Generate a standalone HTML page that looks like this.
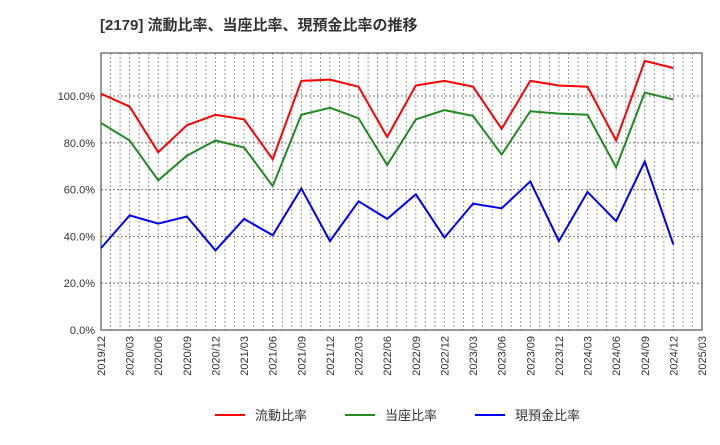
<!DOCTYPE html>
<html><head><meta charset="utf-8"><style>
body{margin:0;background:#fff;font-family:"Liberation Sans","Noto Sans CJK JP",sans-serif}
svg text{font-family:"Liberation Sans","Noto Sans CJK JP",sans-serif}
</style></head><body>
<svg id="c" width="720" height="440">
<text x="100" y="30" font-size="15" font-weight="bold" fill="#333">[2179]  流動比率、当座比率、現預金比率の推移</text>
</svg>
<script>
const categories=["2019/12","2020/03","2020/06","2020/09","2020/12","2021/03","2021/06","2021/09","2021/12","2022/03","2022/06","2022/09","2022/12","2023/03","2023/06","2023/09","2023/12","2024/03","2024/06","2024/09","2024/12","2025/03"];
const currentRatio=[101,95.5,76,87.5,92,90,73,106.5,107,104,82.5,104.5,106.5,104,86,106.5,104.5,104,81,115,112];
const quickRatio=[88.5,81,64,74.5,81,78,61.5,92,95,90.5,70.5,90,94,91.5,75,93.5,92.5,92,69.5,101.5,98.5];
const cashRatio=[35,49,45.5,48.5,34,47.5,40.5,60.5,38,55,47.5,58,39.5,54,52,63.5,38,59,46.5,72,36.5];
const yTicks=[0,20,40,60,80,100];
const NS="http://www.w3.org/2000/svg",svg=document.getElementById("c");
const L=101,R=702,T=53,B=330,yMax=118.4;
const xs=i=>L+(R-L)*i/(categories.length-1);
const ys=v=>B-(B-T)*v/yMax;
function mk(t,a){const e=document.createElementNS(NS,t);for(const k in a)e.setAttribute(k,a[k]);svg.appendChild(e);return e;}
// monthly vertical grid
for(let m=0;m<=(categories.length-1)*3;m++){const x=L+(R-L)*m/((categories.length-1)*3);
const g=mk("line",{x1:x,x2:x,y1:T,y2:B,stroke:"#999","stroke-dasharray":"2,2","stroke-width":1});

}
yTicks.forEach(v=>{const y=ys(v);
const g=mk("line",{x1:L,x2:R,y1:y,y2:y,stroke:"#777","stroke-dasharray":"2,2","stroke-width":1});


const t=mk("text",{x:L-6,y:y+4,"text-anchor":"end","font-size":11,fill:"#333"});t.textContent=v.toFixed(1)+"%";

});
categories.forEach((c,i)=>{const x=xs(i);
const t=mk("text",{x:x+4,y:B+6,"text-anchor":"end","font-size":11,fill:"#333",transform:`rotate(-90 ${x+4} ${B+6})`});t.textContent=c;

});
const f=mk("rect",{x:L,y:T,width:R-L,height:B-T,fill:"none",stroke:"#333","stroke-width":1});


[[currentRatio,"#f00","current-ratio-line"],[quickRatio,"#228b22","quick-ratio-line"],[cashRatio,"#00f","cash-ratio-line"]].forEach(([d,col,n])=>{
const p=mk("polyline",{points:d.map((v,i)=>xs(i)+","+ys(v)).join(" "),fill:"none",stroke:col,"stroke-width":2});

});
[["流動比率","#f00",215,"legend-current-ratio"],["当座比率","#228b22",345,"legend-quick-ratio"],["現預金比率","#00f",475,"legend-cash-ratio"]].forEach(([lab,col,x,n])=>{
const l=mk("line",{x1:x,x2:x+30,y1:415,y2:415,stroke:col,"stroke-width":2});


const t=mk("text",{x:x+40,y:420,"font-size":13,fill:"#333"});t.textContent=lab;

});
</script>
</body></html>
